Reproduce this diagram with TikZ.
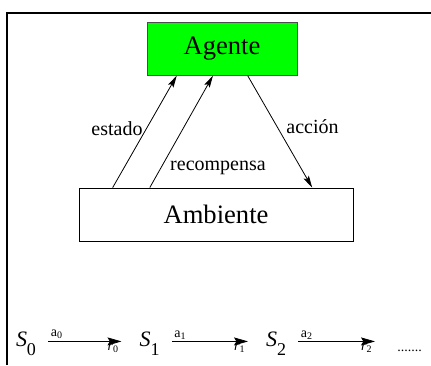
\documentclass[tikz,border=0pt]{standalone}
\usepackage{fontspec}
\setmainfont{Liberation Serif}
\usetikzlibrary{positioning,calc,arrows.meta}
\tikzset{>={Stealth[length=6pt,width=3pt,inset=1pt]}}

\begin{document}
\begin{tikzpicture}[
    x=0.5pt, y=-0.5pt,
    box/.style={rectangle, draw, inner sep=0pt, font=\fontsize{13.3}{16}\selectfont},
    lbl/.style={font=\fontsize{10}{12}\selectfont},
    state/.style={inner sep=0pt, anchor=base, font=\fontsize{11}{13}\selectfont},
    trans/.style={inner sep=1pt, font=\fontsize{7}{8}\selectfont},
    seq/.style={-{Stealth[length=7pt,width=4pt,inset=1.2pt]}}
]
\useasboundingbox (0,0) rectangle (431,365);
\draw[line width=1.3pt] (7,365) -- (7,13) -- (431,13);

\node[box, fill=green, draw=black!70, minimum width=75pt, minimum height=26.2pt] (ag) at (222,49) {Agente};
\node[box, minimum width=137pt, minimum height=26.5pt, below=56pt of ag, xshift=-3pt] (amb) {Ambiente};

\draw[->] ($(amb.north west)!0.124!(amb.north east)$) -- node[lbl, left=-1.5pt, pos=0.53] {estado} ($(ag.south west)!0.2!(ag.south east)$);
\draw[->] ($(amb.north west)!0.259!(amb.north east)$) -- node[lbl, right=1pt, pos=0.18] {recompensa} ($(ag.south west)!0.44!(ag.south east)$);
\draw[->] ($(ag.south west)!0.67!(ag.south east)$) -- node[lbl, right=1pt, pos=0.46] {acción} ($(amb.north west)!0.85!(amb.north east)$);

\node[state] (s0) at (26,346) {\textit{S}\raisebox{-4.5pt}{\fontsize{9}{9}\selectfont 0}};
\node[state] (s1) at (149.5,346) {\textit{S}\raisebox{-4.5pt}{\fontsize{9}{9}\selectfont 1}};
\node[state] (s2) at (276,346) {\textit{S}\raisebox{-4.5pt}{\fontsize{9}{9}\selectfont 2}};
\node[trans, anchor=base west, inner sep=0pt] (dots) at (397,351) {.......};

\draw[seq] ([xshift=6pt]s0.mid east) -- node[trans, pos=0, above right] {a\textsubscript{0}} node[trans, pos=1, below left] {\textit{r}\textsubscript{0}} ([xshift=-8.8pt]s1.mid west);
\draw[seq] ([xshift=6pt]s1.mid east) -- node[trans, pos=0, above right] {a\textsubscript{1}} node[trans, pos=1, below left] {\textit{r}\textsubscript{1}} ([xshift=-8.8pt]s2.mid west);
\draw[seq] ([xshift=6pt]s2.mid east) -- node[trans, pos=0, above right] {a\textsubscript{2}} node[trans, pos=1, below left] {\textit{r}\textsubscript{2}} ([xshift=-11pt]dots.west |- s2.mid east);
\end{tikzpicture}
\end{document}
